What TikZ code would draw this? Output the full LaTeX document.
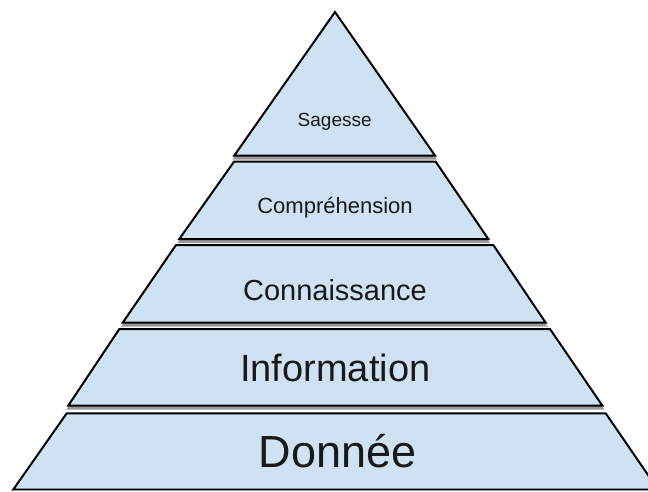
\documentclass[tikz,border=0pt]{standalone}
\usepackage{fontspec}
\setmainfont{Liberation Sans}
\definecolor{layerfill}{HTML}{CFE2F3}
\definecolor{shadowcol}{HTML}{999999}
\begin{document}
\begin{tikzpicture}[x=1pt,y=-1pt,
  layer/.style={fill=layerfill,draw=black,line width=2pt,line join=miter},
  shade/.style={fill=shadowcol,draw=shadowcol,line width=2pt},
  lbl/.style={anchor=base,inner sep=0pt,text=black!90}]
\useasboundingbox (0,0) rectangle (648,491);
\clip (0,0) rectangle (648,491);
% shadows
\fill[shade] (335,15) -- (435,158.5) -- (234.3,158.5) -- cycle;
\fill[shade] (234,164.5) -- (435.7,164.5) -- (488.3,242) -- (179.3,242) -- cycle;
\fill[shade] (176,248) -- (493.3,248) -- (545.7,325.7) -- (122.7,325.7) -- cycle;
\fill[shade] (119.3,332) -- (550,332) -- (602.3,408.5) -- (68.3,408.5) -- cycle;
% layers
\path[layer] (335,12) -- (435,155.5) -- (234.3,155.5) -- cycle;
\path[layer] (234,161.7) -- (435.7,161.7) -- (488.3,239) -- (179.3,239) -- cycle;
\path[layer] (176,245) -- (493.3,245) -- (545.7,322.7) -- (122.7,322.7) -- cycle;
\path[layer] (119.3,329) -- (550,329) -- (602.3,405.5) -- (68.3,405.5) -- cycle;
\path[layer] (66.7,413.3) -- (605.7,413.3) -- (658,489.5) -- (13.3,489.5) -- cycle;
\draw[shadowcol,line width=1pt] (13,490.6) -- (648,490.6);
% labels
\node[lbl,font=\fontsize{19}{22}\selectfont] (sag) at (334.7,126.7) {Sagesse};
\node[lbl,font=\fontsize{22}{26}\selectfont] (comp) at (335,213.3) {Compréhension};
\node[lbl,font=\fontsize{29}{34}\selectfont] (conn) at (335,300) {Connaissance};
\node[lbl,font=\fontsize{38}{44}\selectfont] (info) at (335.3,381.7) {Information};
\node[lbl,font=\fontsize{45}{52}\selectfont] (don) at (337.5,467.7) {Donnée};
\end{tikzpicture}
\end{document}
